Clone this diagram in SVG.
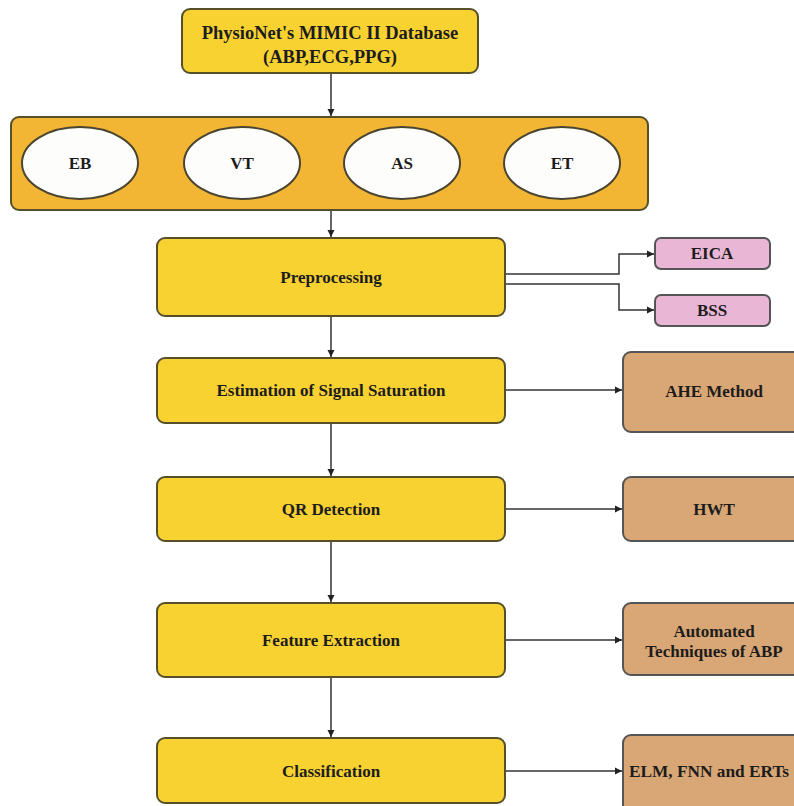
<svg xmlns="http://www.w3.org/2000/svg" width="794" height="806" viewBox="0 0 794 806">
<defs>
<marker id="ah" markerWidth="8" markerHeight="8" refX="7" refY="4" orient="auto" markerUnits="userSpaceOnUse">
<path d="M0,0.5 L7,4 L0,7.5 Z" fill="#222"/>
</marker>
<style>
.y{fill:#F8D231;stroke:#55502a;stroke-width:2}
.band{fill:#F3B634;stroke:#55502a;stroke-width:2}
.ov{fill:#FDFDFB;stroke:#4a4530;stroke-width:2}
.p{fill:#E9B6D6;stroke:#555;stroke-width:2}
.b{fill:#D9A675;stroke:#555;stroke-width:2}
.t{font-family:"Liberation Serif",serif;font-weight:bold;font-size:17px;fill:#1c1c1c;text-anchor:middle}
.c{fill:none;stroke:#333;stroke-width:1.5}
</style>
</defs>
<rect width="794" height="806" fill="#fff"/>
<g id="connectors">
<line class="c" x1="331" y1="73" x2="331" y2="116" marker-end="url(#ah)"/>
<line class="c" x1="331" y1="210" x2="331" y2="237" marker-end="url(#ah)"/>
<polyline class="c" points="505,274 619,274 619,254 654,254" marker-end="url(#ah)"/>
<polyline class="c" points="505,284 619,284 619,310 654,310" marker-end="url(#ah)"/>
<line class="c" x1="331" y1="316" x2="331" y2="357" marker-end="url(#ah)"/>
<line class="c" x1="505" y1="390" x2="622" y2="390" marker-end="url(#ah)"/>
<line class="c" x1="331" y1="423" x2="331" y2="476" marker-end="url(#ah)"/>
<line class="c" x1="505" y1="509" x2="622" y2="509" marker-end="url(#ah)"/>
<line class="c" x1="331" y1="541" x2="331" y2="602" marker-end="url(#ah)"/>
<line class="c" x1="505" y1="640" x2="622" y2="640" marker-end="url(#ah)"/>
<line class="c" x1="331" y1="677" x2="331" y2="737" marker-end="url(#ah)"/>
<line class="c" x1="505" y1="771" x2="622" y2="771" marker-end="url(#ah)"/>
</g>
<g id="database">
<rect class="y" x="182" y="9" width="296" height="64" rx="8"/>
<text class="t" x="330" y="39" style="font-size:18.5px">PhysioNet's MIMIC II Database</text>
<text class="t" x="330" y="63" style="font-size:18.5px">(ABP,ECG,PPG)</text>
</g>
<g id="signals">
<rect class="band" x="11" y="117" width="637" height="93" rx="8"/>
<ellipse class="ov" cx="80" cy="163" rx="58" ry="36"/>
<text class="t" x="80" y="169">EB</text>
<ellipse class="ov" cx="242" cy="163" rx="58" ry="36"/>
<text class="t" x="242" y="169">VT</text>
<ellipse class="ov" cx="402" cy="163" rx="58" ry="36"/>
<text class="t" x="402" y="169">AS</text>
<ellipse class="ov" cx="562" cy="163" rx="58" ry="36"/>
<text class="t" x="562" y="169">ET</text>
</g>
<g id="preprocessing">
<rect class="y" x="157" y="238" width="348" height="78" rx="8"/>
<text class="t" x="331" y="283">Preprocessing</text>
</g>
<g id="eica">
<rect class="p" x="655" y="238" width="115" height="31" rx="6"/>
<text class="t" x="712" y="259">EICA</text>
</g>
<g id="bss">
<rect class="p" x="655" y="295" width="115" height="31" rx="6"/>
<text class="t" x="712" y="316">BSS</text>
</g>
<g id="estimation">
<rect class="y" x="157" y="358" width="348" height="65" rx="8"/>
<text class="t" x="331" y="396">Estimation of Signal Saturation</text>
</g>
<g id="ahe">
<rect class="b" x="623" y="352" width="185" height="80" rx="8"/>
<text class="t" x="714" y="397">AHE Method</text>
</g>
<g id="qr">
<rect class="y" x="157" y="477" width="348" height="64" rx="8"/>
<text class="t" x="331" y="515">QR Detection</text>
</g>
<g id="hwt">
<rect class="b" x="623" y="477" width="185" height="64" rx="8"/>
<text class="t" x="714" y="515">HWT</text>
</g>
<g id="feature">
<rect class="y" x="157" y="603" width="348" height="74" rx="8"/>
<text class="t" x="331" y="646">Feature Extraction</text>
</g>
<g id="automated">
<rect class="b" x="623" y="603" width="185" height="72" rx="8"/>
<text class="t" x="714" y="637">Automated</text>
<text class="t" x="714" y="657">Techniques of ABP</text>
</g>
<g id="classification">
<rect class="y" x="157" y="738" width="348" height="65" rx="8"/>
<text class="t" x="331" y="777">Classification</text>
</g>
<g id="elm">
<rect class="b" x="623" y="735" width="185" height="80" rx="8"/>
<text class="t" x="629" y="777" style="text-anchor:start;font-size:17.3px">ELM, FNN and ERTs</text>
</g>
</svg>
